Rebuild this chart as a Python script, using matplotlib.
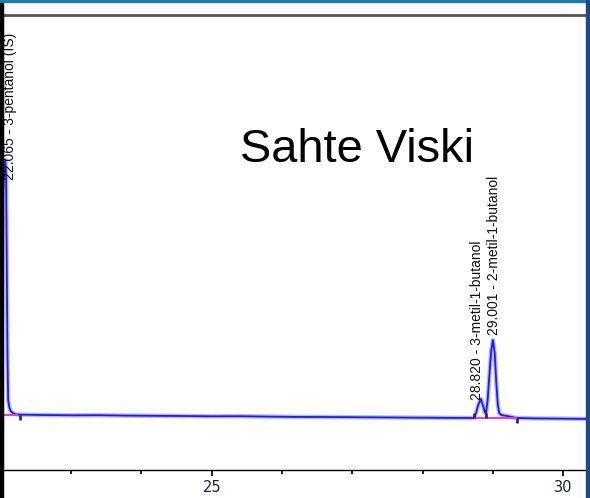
import matplotlib
matplotlib.use("Agg")
import matplotlib.pyplot as plt
from matplotlib import font_manager
from matplotlib.patches import Rectangle

# retention time (min) and detector response, baseline at the start = 0
is_t = [22.00, 22.04, 22.065, 22.075, 22.085, 22.095, 22.105, 22.12, 22.14, 22.18, 22.22]
is_y = [150, 235, 255, 240, 150, 60, 15, 8, 4, 1.5, 0.5]

base_t = [22.30, 22.60, 23.00, 23.40, 23.80, 24.20, 24.60, 25.00, 25.40, 25.80,
          26.20, 26.60, 27.00, 27.40, 27.80, 28.20, 28.50]
base_y = [0.3, 0.0, -0.3, -0.2, -0.6, -0.8, -1.0, -1.3, -1.2, -1.6,
          -1.9, -2.0, -2.2, -2.4, -2.6, -2.8, -2.9]

butanol_t = [28.73, 28.76, 28.79, 28.83, 28.86, 28.885, 28.90, 28.925, 28.95,
             28.975, 29.00, 29.025, 29.05, 29.07, 29.09, 29.12, 29.20, 29.34]
butanol_y = [-3.0, 2, 10, 16, 9, 3, 1.5, 15, 40, 64, 75, 62, 30, 10, 2, 0, -1, -3]

tail_t = [29.60, 29.90, 30.20, 30.50]
tail_y = [-3.4, -3.6, -3.8, -4.0]

peak_labels = ["22.065 - 3-pentanol (IS)",
               "28.820 - 3-metil-1-butanol",
               "29.001 - 2-metil-1-butanol"]
label_t = [22.131, 28.78, 29.02]
label_y = [235, 15, 80]

# integration baselines and start/stop marks
integ_t0 = [22.01, 28.73]
integ_t1 = [22.25, 29.34]
integ_y = [0, -3]
event_t = [22.27, 28.73, 28.90, 29.34]
event_y = [0, -3, -3, -3]
event_len = [-5, 5, 5, -5]

major_ticks = [25, 30]
minor_ticks = [23, 24, 26, 27, 28, 29]

t = is_t + base_t + butanol_t + tail_t
y = is_y + base_y + butanol_y + tail_y

names = {f.name for f in font_manager.fontManager.ttflist}
if "Liberation Sans Narrow" in names:
    label_font, label_size = "Liberation Sans Narrow", 12
elif "Liberation Sans" in names:
    label_font, label_size = "Liberation Sans", 10
else:
    label_font, label_size = "DejaVu Sans", 9
title_font = "Liberation Sans" if "Liberation Sans" in names else "DejaVu Sans"

W, H = 590, 498
fig = plt.figure(figsize=(W / 100, H / 100), dpi=100)
ax = fig.add_axes([1.5 / W, 28 / H, 598.5 / W, 455 / H])

ax.plot(t, y, color="#b8bcff", lw=3.2, solid_capstyle="round", zorder=2)
ax.plot(t, y, color="#1a1aff", lw=1.3, zorder=3)

ax.hlines(integ_y, integ_t0, integ_t1, color="#ff2fd0", lw=1.4, zorder=4)
ax.vlines(event_t, event_y, [a + b for a, b in zip(event_y, event_len)],
          color="#333333", lw=2, zorder=5)

for s, tx, ty in zip(peak_labels, label_t, label_y):
    ax.text(tx, ty, s, rotation=90, ha="center", va="bottom",
            family=label_font, fontsize=label_size, color="#111111", zorder=6)

ax.set_xlim(22.010, 30.523)
ax.set_ylim(-55, 400)
ax.set_xticks(major_ticks)
ax.set_xticklabels([str(v) for v in major_ticks])
ax.set_xticks(minor_ticks, minor=True)
ax.set_yticks([])
ax.tick_params(axis="x", which="major", length=4.5, width=1.4, color="#222222",
               pad=3, labelsize=10.5, labelcolor="#1c2340")
ax.tick_params(axis="x", which="minor", length=2.6, width=1.4, color="#222222")

ax.spines["left"].set_linewidth(3)
ax.spines["left"].set_color("black")
ax.spines["top"].set_linewidth(2)
ax.spines["top"].set_color("#555555")
ax.spines["bottom"].set_linewidth(1)
ax.spines["bottom"].set_color("black")
ax.spines["right"].set_visible(False)

fig.text(356.5 / W, 1 - 162 / H, "Sahte Viski", family=title_font, fontsize=33.8,
         ha="center", va="baseline", color="black")

# slide frame around the pasted chromatogram
fig.patches.append(Rectangle((0, 0), 3 / W, 1, transform=fig.transFigure,
                             color="black", zorder=10))
fig.patches.append(Rectangle((0, 1 - 2 / H), 1, 2 / H, transform=fig.transFigure,
                             color="#1b7ca5", zorder=11))
fig.patches.append(Rectangle((586 / W, 0), 4 / W, 1, transform=fig.transFigure,
                             color="#1b4a86", zorder=11))

fig.savefig("out.png", dpi=100)
